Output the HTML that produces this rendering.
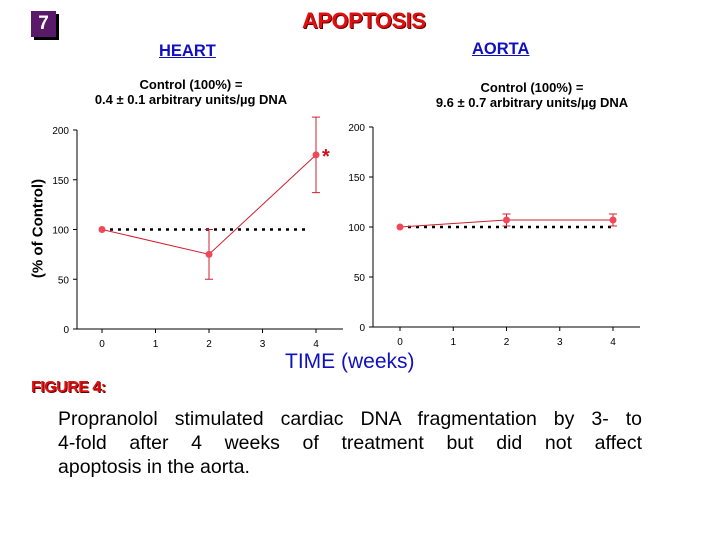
<!DOCTYPE html>
<html><head><meta charset="utf-8"><style>
body{margin:0;background:#fff;width:719px;height:539px;overflow:hidden;position:relative;font-family:"Liberation Sans",sans-serif}
.a{position:absolute;white-space:nowrap}
.cap{position:absolute;left:58px;width:584px;font-size:19.5px;line-height:24px;text-align:justify;text-align-last:justify;white-space:nowrap}
</style></head><body>
<div class="a" style="left:31px;top:11px;width:25px;height:26px;background:#5a1a6a;box-shadow:3px 3px 0 #000;color:#fff;font-weight:bold;font-size:19px;text-align:center;line-height:26px">7</div>
<div class="a" style="left:302px;top:8px;color:#e01010;font-weight:bold;font-size:22px;text-shadow:1px 1px 0 #600;letter-spacing:-0.5px">APOPTOSIS</div>
<div class="a" style="left:159px;top:42px;color:#1010c0;font-weight:bold;font-size:16.5px;text-decoration:underline">HEART</div>
<div class="a" style="left:472px;top:40px;color:#1010c0;font-weight:bold;font-size:16.5px;text-decoration:underline">AORTA</div>
<div class="a" style="left:91px;top:77px;width:200px;text-align:center;font-size:13px;font-weight:bold;line-height:15px">Control (100%) =<br>0.4 ± 0.1 arbitrary units/µg DNA</div>
<div class="a" style="left:432px;top:80px;width:200px;text-align:center;font-size:13px;font-weight:bold;line-height:15px">Control (100%) =<br>9.6 ± 0.7 arbitrary units/µg DNA</div>
<div class="a" style="left:-22px;top:220px;width:120px;text-align:center;transform:rotate(-90deg);font-weight:bold;font-size:15px">(% of Control)</div>
<div class="a" style="left:285px;top:350px;color:#1010c0;font-size:21px">TIME (weeks)</div>
<div class="a" style="left:31px;top:379px;color:#e01010;font-weight:bold;font-size:16px;text-shadow:1px 1px 0 #600;letter-spacing:-0.5px">FIGURE 4:</div>
<div>
<div class="cap" style="top:407px">Propranolol stimulated cardiac DNA fragmentation by 3- to</div>
<div class="cap" style="top:431px">4-fold after 4 weeks of treatment but did not affect</div>
<div class="cap" style="top:455px;text-align:left;text-align-last:left">apoptosis in the aorta.</div>
</div>
<svg class="a" style="left:0;top:0" width="719" height="539" id="svg" font-family="Liberation Sans, sans-serif"></svg>
<script>
const xCats=[0,2,4];
const xTicks=[0,1,2,3,4];
const yTicks=[0,50,100,150,200];
const heartMean=[100,75,175];
const heartErr=[0,25,38];
const aortaMean=[100,107,107];
const aortaErr=[0,6,6];
const svg=document.getElementById('svg');
const NS='http://www.w3.org/2000/svg';
function mk(t,a){const e=document.createElementNS(NS,t);for(const k in a)e.setAttribute(k,a[k]);svg.appendChild(e);return e;}
function panel(name,ax,y0,y200,x0,x4,xend,dotEnd,mean,err,star){
 const X=v=>x0+(x4-x0)*v/4, Y=v=>y0+(y200-y0)*v/200;
 let e=mk('line',{x1:ax,y1:y200,x2:ax,y2:y0,stroke:'#000'});
 
 
 e=mk('line',{x1:ax,y1:y0,x2:xend,y2:y0,stroke:'#000'});
 
 
 yTicks.forEach(v=>{mk('line',{x1:ax-4,y1:Y(v),x2:ax,y2:Y(v),stroke:'#000'});
  const t=mk('text',{x:ax-8,y:Y(v)+4,'text-anchor':'end','font-size':10});t.textContent=v;
  
  });
 xTicks.forEach(v=>{mk('line',{x1:X(v),y1:y0,x2:X(v),y2:y0+4,stroke:'#000'});
  const t=mk('text',{x:X(v),y:y0+18,'text-anchor':'middle','font-size':10});t.textContent=v;
  
  });
 e=mk('line',{x1:X(0),y1:Y(100),x2:dotEnd,y2:Y(100),stroke:'#000','stroke-width':2.5,'stroke-dasharray':'3 5'});
 
 
 e=mk('polyline',{points:xCats.map((c,i)=>X(c)+','+Y(mean[i])).join(' '),fill:'none',stroke:'#d02030','stroke-width':1});
 
 
 xCats.forEach((c,i)=>{
  if(err[i]>0){const g=mk('path',{d:`M${X(c)},${Y(mean[i]+err[i])}V${Y(mean[i]-err[i])}M${X(c)-4},${Y(mean[i]+err[i])}h8M${X(c)-4},${Y(mean[i]-err[i])}h8`,stroke:'#d02030',fill:'none'});
   
   }
  const p=mk('circle',{cx:X(c),cy:Y(mean[i]),r:3.5,fill:'#f04858'});
  
  
 });
 if(star){const s=mk('text',{x:X(4)+6,y:Y(mean[2])+8,fill:'#d01020','font-size':20,'font-weight':'bold'});s.textContent='*';
  
  }
}
panel('heart',77,329,130,102,316,343,310,heartMean,heartErr,true);
panel('aorta',373,327,127,400,613,640,615,aortaMean,aortaErr,false);
</script>
</body></html>
